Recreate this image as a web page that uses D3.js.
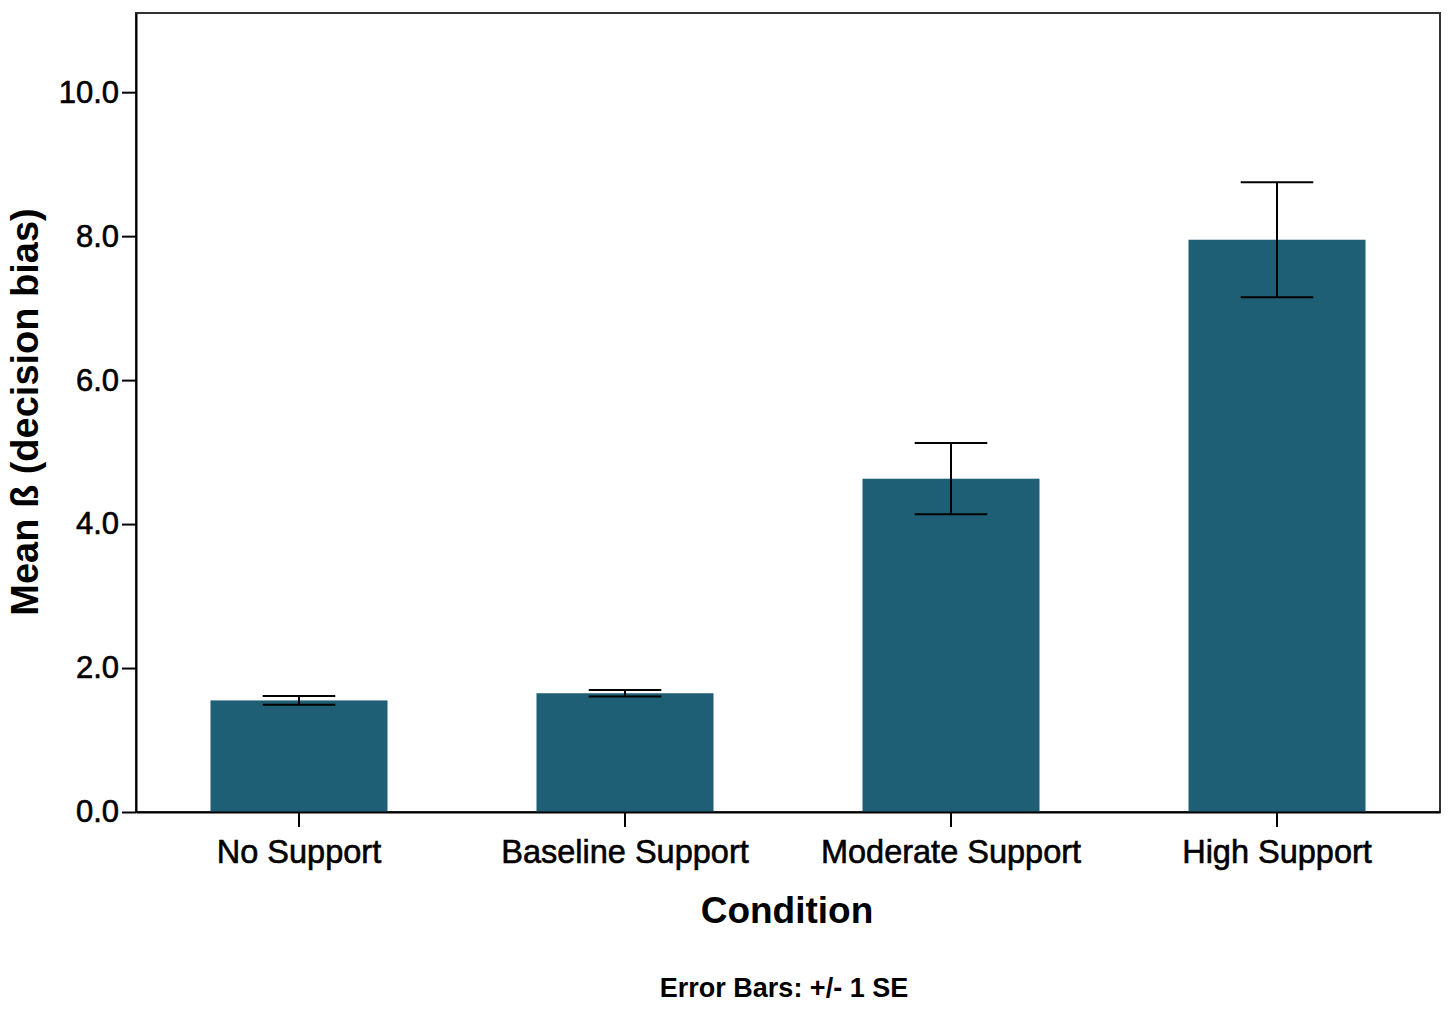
<!DOCTYPE html>
<html>
<head>
<meta charset="utf-8">
<script src="https://cdn.jsdelivr.net/npm/d3@7"></script>
<style>
  body { margin: 0; background: #fff; }
  svg { display: block; font-family: Arial, "Liberation Sans", sans-serif; }
</style>
</head>
<body>
<svg></svg>
<script>
const conditions = ['No Support', 'Baseline Support', 'Moderate Support', 'High Support'];
const means = [1.55, 1.65, 4.63, 7.95];
const stdErrors = [0.06, 0.045, 0.495, 0.80];
const yTicks = [0, 2, 4, 6, 8, 10];

const svg = d3.select('svg')
	.attr('width', 1450)
	.attr('height', 1012);

const margin = { top: 13, right: 10, bottom: 200, left: 136 },
	width = 1450,
	height = 1012,
	innerWidth = width - margin.left - margin.right,
	innerHeight = height - margin.top - margin.bottom,
	barColor = '#1f5f75';

const data = conditions.map((c, i) => ({ condition: c, mean: means[i], se: stdErrors[i] }));

const xScale = d3.scaleBand()
	.domain(conditions)
	.range([0, innerWidth])
	.paddingInner(0.457)
	.paddingOuter(0.2285);

const yScale = d3.scaleLinear()
	.domain([0, 11.1])
	.range([innerHeight, 0]);

const g = svg.append('g')
	.attr('transform', `translate(${margin.left}, ${margin.top})`);

// frame around plot area
g.append('rect')
	.attr('width', innerWidth)
	.attr('height', innerHeight)
	.attr('fill', 'none')
	.attr('stroke', '#333')
	.attr('stroke-width', 2);

// bars
g.selectAll('rect.bar')
	.data(data)
	.enter()
	.append('rect')
		.attr('class', 'bar')
		.attr('x', d => xScale(d.condition))
		.attr('y', d => yScale(d.mean))
		.attr('width', xScale.bandwidth())
		.attr('height', d => innerHeight - yScale(d.mean))
		.attr('fill', barColor);

// error bars
const capHalf = xScale.bandwidth() * 0.205;
const eb = g.selectAll('g.err')
	.data(data)
	.enter()
	.append('g')
		.attr('class', 'err')
		.attr('transform', d => `translate(${xScale(d.condition) + xScale.bandwidth() / 2}, 0)`)
		.attr('stroke', '#000')
		.attr('stroke-width', 2);

eb.append('line')
	.attr('y1', d => yScale(d.mean + d.se))
	.attr('y2', d => yScale(d.mean - d.se));
eb.append('line')
	.attr('x1', -capHalf).attr('x2', capHalf)
	.attr('y1', d => yScale(d.mean + d.se))
	.attr('y2', d => yScale(d.mean + d.se));
eb.append('line')
	.attr('x1', -capHalf).attr('x2', capHalf)
	.attr('y1', d => yScale(d.mean - d.se))
	.attr('y2', d => yScale(d.mean - d.se));

// axes
const yAxis = d3.axisLeft(yScale)
	.tickValues(yTicks)
	.tickFormat(d3.format('.1f'))
	.tickSize(14)
	.tickSizeOuter(0)
	.tickPadding(3);

const yAxisG = g.append('g').call(yAxis);
yAxisG.select('.domain').attr('stroke', '#000').attr('stroke-width', 2);
yAxisG.selectAll('.tick line').attr('stroke-width', 2);
yAxisG.selectAll('.tick text')
	.attr('font-size', 31)
	.attr('fill', '#000')
	.attr('stroke', '#000')
	.attr('stroke-width', 0.6)
	.attr('font-family', 'Arial, "Liberation Sans", sans-serif');

const xAxis = d3.axisBottom(xScale)
	.tickSize(15)
	.tickSizeOuter(0)
	.tickPadding(13);

const xAxisG = g.append('g').call(xAxis)
	.attr('transform', `translate(0, ${innerHeight})`);
xAxisG.select('.domain').attr('stroke', '#000').attr('stroke-width', 2);
xAxisG.selectAll('.tick line').attr('stroke-width', 2);
xAxisG.selectAll('.tick text')
	.attr('font-size', 32.5)
	.attr('fill', '#000')
	.attr('stroke', '#000')
	.attr('stroke-width', 0.6)
	.attr('font-family', 'Arial, "Liberation Sans", sans-serif');

// axis titles
svg.append('text')
	.attr('x', 787)
	.attr('y', 923)
	.attr('text-anchor', 'middle')
	.attr('font-size', 37)
	.attr('font-weight', 'bold')
	.text('Condition');

svg.append('text')
	.attr('transform', 'translate(38, 412) rotate(-90)')
	.attr('text-anchor', 'middle')
	.attr('font-size', 38)
	.attr('font-weight', 'bold')
	.text('Mean ß (decision bias)');

svg.append('text')
	.attr('x', 784)
	.attr('y', 997)
	.attr('text-anchor', 'middle')
	.attr('font-size', 27)
	.attr('font-weight', 'bold')
	.text('Error Bars: +/- 1 SE');
</script>
</body>
</html>
